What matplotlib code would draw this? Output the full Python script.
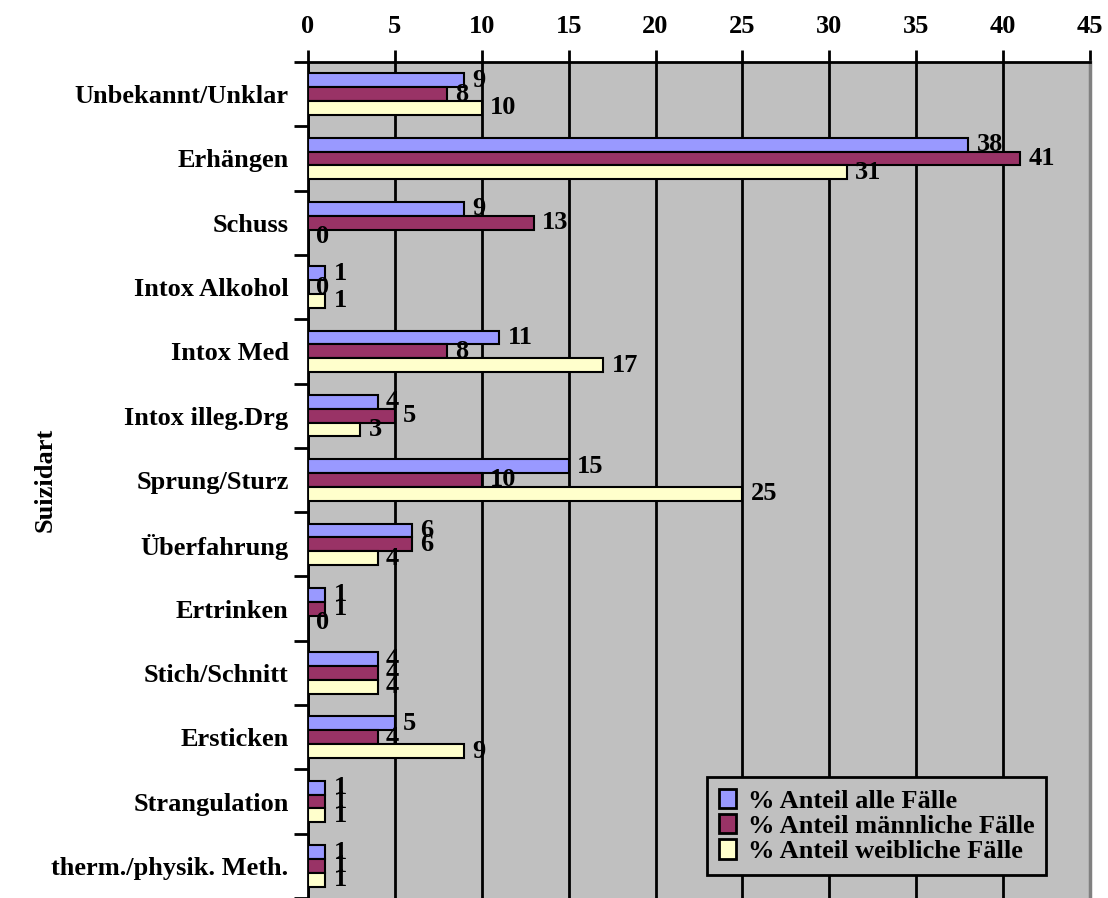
import matplotlib
matplotlib.use("Agg")
import matplotlib.pyplot as plt
import numpy as np
from matplotlib.ticker import FixedLocator

categories = [
    "Unbekannt/Unklar", "Erhängen", "Schuss", "Intox Alkohol", "Intox Med",
    "Intox illeg.Drg", "Sprung/Sturz", "Überfahrung", "Ertrinken",
    "Stich/Schnitt", "Ersticken", "Strangulation", "therm./physik. Meth.",
]
alle = [9, 38, 9, 1, 11, 4, 15, 6, 1, 4, 5, 1, 1]
maennlich = [8, 41, 13, 0, 8, 5, 10, 6, 1, 4, 4, 1, 1]
weiblich = [10, 31, 0, 1, 17, 3, 25, 4, 0, 4, 9, 1, 1]
series_names = ["% Anteil alle Fälle", "% Anteil männliche Fälle", "% Anteil weibliche Fälle"]
x_ticks = [0, 5, 10, 15, 20, 25, 30, 35, 40, 45]

colors = ["#9999FF", "#993366", "#FFFFCC"]
FONT = "Liberation Serif"
FS = 19

plt.rcParams["font.family"] = FONT
plt.rcParams["font.weight"] = "bold"

fig = plt.figure(figsize=(11.08, 8.98), dpi=100)
ax = fig.add_axes([308 / 1108, 0.0, (1090 - 308) / 1108, 1 - 62 / 898])
ax.set_facecolor("#C0C0C0")

y = np.arange(len(categories))
h = 0.215
offsets = [-h, 0.0, h]
for vals, off, col, name in zip([alle, maennlich, weiblich], offsets, colors, series_names):
    bars = ax.barh(y + off, vals, height=h, color=col, edgecolor="black",
                   linewidth=1.5, zorder=3, label=name)
    for b, v in zip(bars, vals):
        ax.annotate(f"{v}", xy=(v, b.get_y() + b.get_height() / 2),
                    xytext=(6, 0), textcoords="offset points",
                    ha="left", va="center", fontsize=FS, fontweight="bold",
                    zorder=5)

ax.set_xlim(0, 45)
ax.set_ylim(len(categories) - 0.5, -0.5)

# value axis on top with vertical grid lines
ax.xaxis.tick_top()
ax.xaxis.set_major_locator(FixedLocator(x_ticks))
ax.set_xticklabels([str(t) for t in x_ticks], fontsize=FS, fontweight="bold")
ax.tick_params(axis="x", which="major", direction="out", length=9, width=2,
               pad=8, colors="black")
ax.grid(axis="x", color="black", linewidth=2, zorder=1)
ax.set_axisbelow(True)

# category labels centred, tick marks at category boundaries
ax.set_yticks(y)
ax.set_yticklabels(categories, fontsize=FS, fontweight="bold")
ax.tick_params(axis="y", which="major", length=0, pad=14)
ax.yaxis.set_minor_locator(FixedLocator(np.arange(-0.5, len(categories), 1.0)))
ax.tick_params(axis="y", which="minor", direction="out", length=10, width=2)

for side in ["top", "left"]:
    ax.spines[side].set_color("black")
    ax.spines[side].set_linewidth(2)
ax.spines["right"].set_color("#808080")
ax.spines["right"].set_linewidth(2.5)
ax.spines["bottom"].set_visible(False)

fig.text(45 / 1108, 1 - 480 / 898, "Suizidart", rotation=90, ha="center",
         va="center", fontsize=FS, fontweight="bold")

leg = ax.legend(loc="lower left", bbox_to_anchor=((707 - 308) / 782, (898 - 875) / 836),
                frameon=True, fancybox=False, shadow=False, framealpha=1,
                facecolor="#C0C0C0", edgecolor="black",
                prop={"family": FONT, "weight": "bold", "size": FS},
                handlelength=0.65, handleheight=0.75, handletextpad=0.45,
                labelspacing=0.05, borderpad=0.45, borderaxespad=0)
leg.get_frame().set_linewidth(2)
for patch in leg.get_patches():
    patch.set_linewidth(2)
leg.set_zorder(10)

fig.savefig("out.png", dpi=100)
